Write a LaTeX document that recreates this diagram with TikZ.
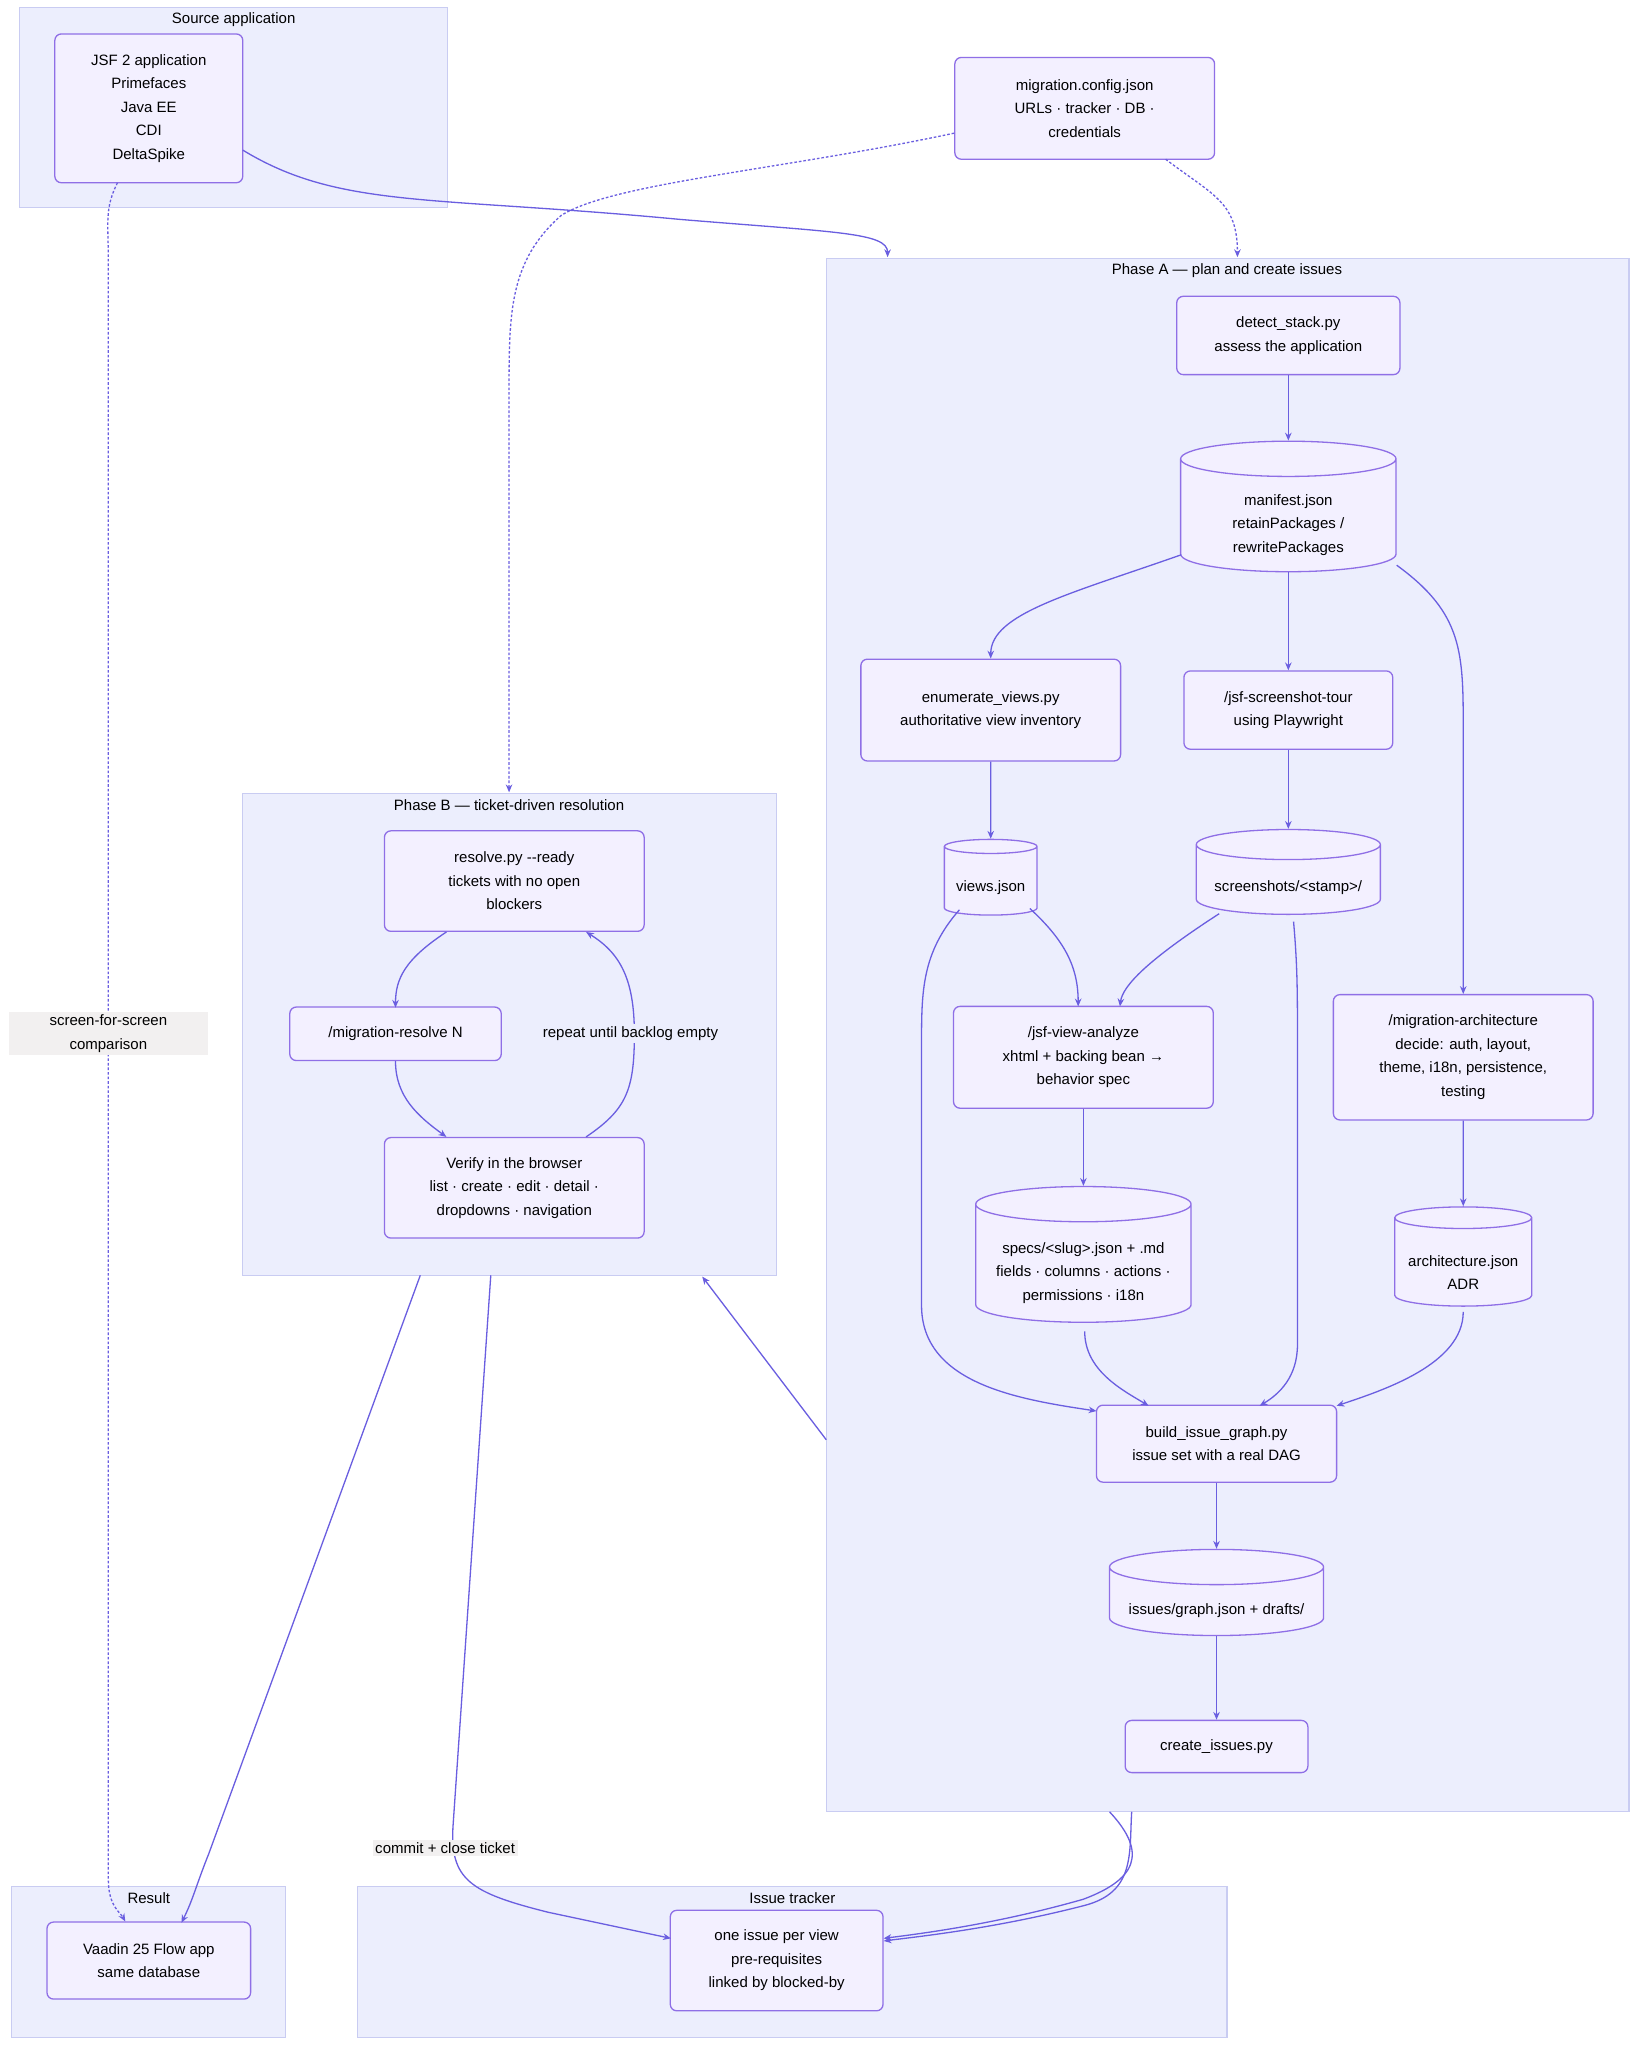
\documentclass[tikz,border=0pt]{standalone}
\usepackage{fontspec}
\setmainfont{Liberation Sans}
\usetikzlibrary{arrows.meta,shapes.geometric}
\definecolor{clusterfill}{HTML}{ECEEFD}
\definecolor{clusterline}{HTML}{C9CCF2}
\definecolor{nodefill}{HTML}{F3F0FF}
\definecolor{nodeline}{HTML}{8F6FE6}
\definecolor{edgecol}{HTML}{6A5EE0}
\definecolor{labelfill}{HTML}{F2F0F0}
\newcommand{\cylw}[1]{\rule{0pt}{12pt}\hspace*{#1pt}}
\tikzset{
  cluster/.style={fill=clusterfill, draw=clusterline, line width=0.8pt},
  ctitle/.style={font=\fontsize{11.5}{14}\selectfont, anchor=center},
  box/.style={draw=nodeline, fill=nodefill, rounded corners=5pt, line width=1pt,
    align=center, font=\fontsize{11.5}{18}\selectfont, inner sep=0pt},
  boxtext/.style={align=center, font=\fontsize{11.5}{18}\selectfont, inner sep=0pt},
  store/.style={cylinder, shape border rotate=90, aspect=0.18, draw=nodeline,
    fill=nodefill, line width=1pt, inner sep=0pt},
  flow/.style={draw=edgecol, line width=1pt, -{Stealth[length=6pt,width=5pt]}},
  dflow/.style={flow, dashed, dash pattern=on 2pt off 1.5pt},
  elabel/.style={fill=labelfill, font=\fontsize{11.5}{18}\selectfont, align=center, inner sep=2pt}
}
\begin{document}
\begin{tikzpicture}[x=1pt, y=-1pt]
  \useasboundingbox (0,0) rectangle (1256,1569);
  \fill[white] (0,0) rectangle (1256,1569);

  % clusters
  \draw[cluster] (15,6) rectangle (343,159);
  \node[ctitle] (tSrc) at (179,15) {Source application};
  \draw[cluster] (633,198) rectangle (1248,1388);
  \node[ctitle] (tA) at (940,207) {Phase A — plan and create issues};
  \draw[cluster] (186,608) rectangle (595,977);
  \node[ctitle] (tB) at (390,617) {Phase B — ticket-driven resolution};
  \draw[cluster] (9,1445) rectangle (219,1561);
  \node[ctitle] (tRes) at (114,1454) {Result};
  \draw[cluster] (274,1445) rectangle (940,1561);
  \node[ctitle] (tTrk) at (607,1454) {Issue tracker};
  \coordinate (phaseAtop) at (680,197);
  \coordinate (phaseAtop2) at (948,197);
  \coordinate (phaseBtop) at (390,607);
  \coordinate (phaseAleft) at (633,1103);
  \coordinate (phaseBbot) at (538,978);
  \coordinate (phaseBbotL) at (322,977);
  \coordinate (phaseBbotM) at (376,977);
  \coordinate (phaseAbot1) at (850,1388);
  \coordinate (phaseAbot2) at (867,1388);

  % nodes
  \node[box, minimum width=144, minimum height=114] (jsf) at (114,83)
    {JSF 2 application\\Primefaces\\Java EE\\CDI\\DeltaSpike};
  \node[box, minimum width=199, minimum height=78] (config) at (831,83)
    {migration.config.json\\URLs · tracker · DB ·\\credentials};
  \node[box, minimum width=171, minimum height=60] (detect) at (987,257)
    {detect\_stack.py\\assess the application};
  \node[store, minimum width=165, minimum height=100] (manifest) at (987,395) {\cylw{150}};
  \node[boxtext] (manifestT) at (987,402)
    {manifest.json\\retainPackages /\\rewritePackages};
  \node[box, minimum width=199, minimum height=78] (enumviews) at (759,544)
    {enumerate\_views.py\\authoritative view inventory};
  \node[box, minimum width=160, minimum height=60] (tour) at (987,544)
    {/jsf-screenshot-tour\\using Playwright};
  \node[store, minimum width=71, minimum height=58] (views) at (759,675) {\cylw{60}};
  \node[boxtext] (viewsT) at (759,680) {views.json};
  \node[store, minimum width=141, minimum height=65] (shots) at (987,674) {\cylw{128}};
  \node[boxtext] (shotsT) at (987,680) {screenshots/<stamp>/};
  \node[box, minimum width=199, minimum height=78] (analyze) at (830,810)
    {/jsf-view-analyze\\xhtml + backing bean →\\behavior spec};
  \node[box, minimum width=199, minimum height=96] (archi) at (1121,810)
    {/migration-architecture\\decide: auth, layout,\\theme, i18n, persistence,\\testing};
  \node[store, minimum width=165, minimum height=104] (specs) at (830,968) {\cylw{150}};
  \node[boxtext] (specsT) at (830,975)
    {specs/<slug>.json + .md\\fields · columns · actions ·\\permissions · i18n};
  \node[store, minimum width=105, minimum height=76] (archjson) at (1121,967) {\cylw{92}};
  \node[boxtext] (archjsonT) at (1121,975) {architecture.json\\ADR};
  \node[box, minimum width=184, minimum height=59] (build) at (932,1106)
    {build\_issue\_graph.py\\issue set with a real DAG};
  \node[store, minimum width=164, minimum height=66] (graph) at (932,1227) {\cylw{150}};
  \node[boxtext] (graphT) at (932,1234) {issues/graph.json + drafts/};
  \node[box, minimum width=140, minimum height=40] (create) at (932,1338)
    {create\_issues.py};
  \node[box, minimum width=199, minimum height=77] (resolve) at (394,675)
    {resolve.py {-}{-}ready\\tickets with no open\\blockers};
  \node[box, minimum width=162, minimum height=41] (migres) at (303,792)
    {/migration-resolve N};
  \node[box, minimum width=199, minimum height=77] (verify) at (394,910)
    {Verify in the browser\\list · create · edit · detail ·\\dropdowns · navigation};
  \node[box, minimum width=156, minimum height=59] (vaadin) at (114,1502)
    {Vaadin 25 Flow app\\same database};
  \node[box, minimum width=163, minimum height=77] (issues) at (595,1502)
    {one issue per view\\pre-requisites\\linked by blocked-by};

  % connectors
  \draw[flow] (186,115) .. controls (260,160) and (330,150) .. (520,168)
    .. controls (640,178) and (680,178) .. (phaseAtop);
  \draw[dflow] (90,140) .. controls (80,160) and (83,170) .. (83,200) -- (83,1440)
    .. controls (83,1460) and (92,1465) .. (vaadin.north west -| 96,0);
  \node[elabel, minimum width=152] (lCmp) at (83,792) {screen-for-screen\\comparison};
  \draw[dflow] (config.west |- 0,102) .. controls (600,130) and (470,140) .. (430,165)
    .. controls (390,200) and (390,240) .. (390,300) -- (phaseBtop);
  \draw[dflow] (893,122) .. controls (930,150) and (948,155) .. (phaseAtop2);

  \draw[flow] (detect) -- (manifest);
  \draw[flow] (905,425) .. controls (820,455) and (759,470) .. (enumviews.north);
  \draw[flow] (manifest) -- (tour);
  \draw[flow] (1070,433) .. controls (1121,470) and (1121,500) .. (1121,560) -- (archi.north);
  \draw[flow] (enumviews) -- (views);
  \draw[flow] (tour) -- (shots);
  \draw[flow] (789,696) .. controls (815,720) and (826,740) .. (826,771);
  \draw[flow] (934,700) .. controls (880,735) and (860,755) .. (858,771);
  \draw[flow] (735,697) .. controls (706,730) and (706,760) .. (706,800) -- (706,1000)
    .. controls (706,1060) and (780,1072) .. (840,1081);
  \draw[flow] (991,706) .. controls (994,740) and (994,760) .. (994,800) -- (994,1030)
    .. controls (994,1055) and (980,1068) .. (965,1077);
  \draw[flow] (analyze) -- (specs);
  \draw[flow] (archi) -- (archjson);
  \draw[flow] (831,1020) .. controls (831,1050) and (860,1065) .. (880,1077);
  \draw[flow] (1121,1005) .. controls (1121,1045) and (1060,1065) .. (1024,1077);
  \draw[flow] (build) -- (graph);
  \draw[flow] (graph) -- (create);

  \draw[flow] (phaseAleft) -- (phaseBbot);
  \draw[flow] (phaseAbot1) .. controls (880,1420) and (870,1440) .. (830,1455)
    .. controls (760,1475) and (700,1482) .. (677,1485);
  \draw[flow] (phaseAbot2) .. controls (865,1420) and (870,1450) .. (830,1460)
    .. controls (760,1478) and (700,1484) .. (677,1487);

  \draw[flow] (342,714) .. controls (310,735) and (303,750) .. (303,772);
  \draw[flow] (303,813) .. controls (303,840) and (320,855) .. (342,871);
  \draw[flow] (449,871) .. controls (480,850) and (486,835) .. (486,792)
    .. controls (486,750) and (475,730) .. (449,714);
  \node[elabel, fill=clusterfill] (lRep) at (483,792) {repeat until backlog empty};

  \draw[flow] (phaseBbotL) -- (160,1420) .. controls (150,1445) and (148,1455) .. (139,1473);
  \draw[flow] (phaseBbotM) -- (347,1400) .. controls (345,1440) and (360,1450) .. (420,1465)
    -- (514,1485);
  \node[elabel] (lCommit) at (341,1416) {commit + close ticket};
\end{tikzpicture}
\end{document}
